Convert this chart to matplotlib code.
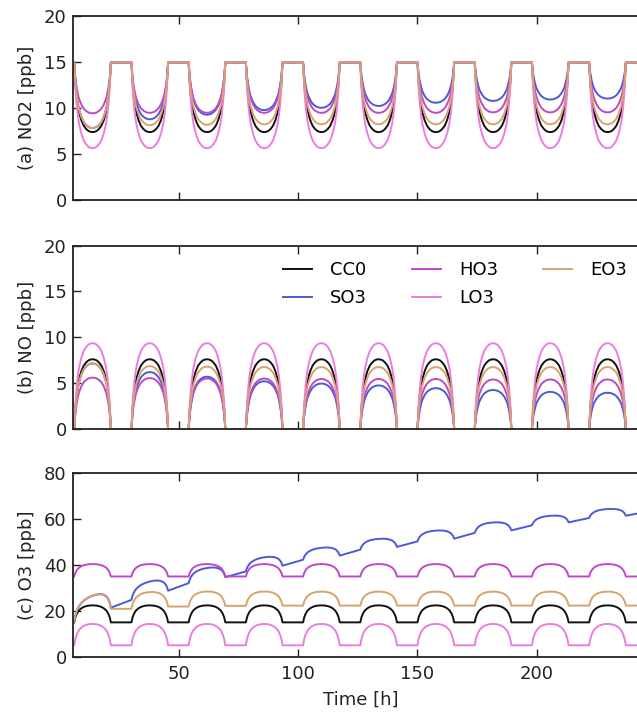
import matplotlib
matplotlib.use("Agg")
import matplotlib.pyplot as plt

plt.rcParams["font.family"] = ["DejaVu Sans"]
plt.rcParams["font.size"] = 13

series = ["CC0", "SO3", "HO3", "LO3", "EO3"]
colors = {
    "CC0": "#111111",
    "SO3": "#4a5ad8",
    "HO3": "#bf48c8",
    "LO3": "#ec7ce0",
    "EO3": "#d8a26e",
}

# start of each daylight period [h], and end of the run
sunrise = [6, 30, 54, 78, 102, 126, 150, 174, 198, 222]
t_end = 242.6

day_offsets = [0, 0.5, 1, 1.5, 2, 3, 4, 5, 6, 7, 7.7,
               8.4, 9.4, 10.4, 11.4, 12.4, 13.4, 13.9, 14.4, 14.9, 15.4]
day_shape = [0, 0.30, 0.48, 0.61, 0.71, 0.83, 0.91, 0.955, 0.985, 0.998, 1.0,
             0.998, 0.985, 0.955, 0.91, 0.83, 0.71, 0.61, 0.48, 0.30, 0]

# (a) NO2: night level 15 ppb, daily minimum per day
no2_night = 15.0
no2_min = {
    "CC0": [7.4, 7.4, 7.4, 7.4, 7.4, 7.4, 7.4, 7.4, 7.4, 7.4],
    "SO3": [7.85, 8.8, 9.3, 9.8, 10.05, 10.25, 10.6, 10.8, 10.95, 11.05],
    "HO3": [9.45, 9.5, 9.5, 9.5, 9.5, 9.5, 9.5, 9.55, 9.55, 9.55],
    "LO3": [5.65, 5.65, 5.65, 5.65, 5.65, 5.65, 5.65, 5.65, 5.65, 5.65],
    "EO3": [7.85, 8.15, 8.2, 8.25, 8.25, 8.25, 8.25, 8.25, 8.25, 8.25],
}

# (b) NO: zero at night, daily peak per day
no_peak = {
    "CC0": [7.6, 7.6, 7.6, 7.6, 7.6, 7.6, 7.6, 7.6, 7.6, 7.6],
    "SO3": [7.15, 6.2, 5.7, 5.2, 4.95, 4.75, 4.45, 4.25, 4.05, 3.95],
    "HO3": [5.6, 5.55, 5.5, 5.5, 5.45, 5.45, 5.45, 5.4, 5.4, 5.4],
    "LO3": [9.35, 9.35, 9.35, 9.35, 9.35, 9.35, 9.35, 9.35, 9.35, 9.35],
    "EO3": [7.15, 6.85, 6.8, 6.75, 6.75, 6.75, 6.75, 6.75, 6.75, 6.75],
}

# (c) O3: value at sunrise, at sunset, daytime bump, and last value
o3_dawn = {
    "CC0": [15.1] * 10,
    "SO3": [15.5, 24.9, 32.2, 37.3, 42.4, 46.8, 50.4, 54.1, 57.4, 60.6],
    "HO3": [35.1] * 10,
    "LO3": [5.1] * 10,
    "EO3": [15.5, 21.0, 22.0, 22.3, 22.4, 22.4, 22.4, 22.4, 22.4, 22.4],
}
o3_dusk = {
    "CC0": [15.1] * 10,
    "SO3": [21.5, 28.9, 34.8, 39.8, 44.2, 48.0, 51.6, 55.2, 58.7, 61.6],
    "HO3": [35.1] * 10,
    "LO3": [5.1] * 10,
    "EO3": [21.0, 22.0, 22.3, 22.4, 22.4, 22.4, 22.4, 22.4, 22.4, 22.4],
}
o3_bump = {
    "CC0": [7.4] * 10,
    "SO3": [8.2, 6.0, 5.3, 4.9, 4.3, 4.1, 4.1, 4.0, 3.5, 3.4],
    "HO3": [5.4] * 10,
    "LO3": [9.3] * 10,
    "EO3": [8.5, 6.8, 6.4, 6.2, 6.1, 6.1, 6.1, 6.1, 6.1, 6.1],
}
o3_last = {"CC0": 15.1, "SO3": 62.6, "HO3": 35.1, "LO3": 5.1, "EO3": 22.4}


def daily_curve(dawn, dusk, bump, last):
    """Chain the daylight cycles; nights are straight segments between them."""
    span = day_offsets[-1]
    ts, ys = [], []
    for k, t0 in enumerate(sunrise):
        for off, s in zip(day_offsets, day_shape):
            ts.append(t0 + off)
            ys.append(dawn[k] + (dusk[k] - dawn[k]) * off / span + bump[k] * s)
    ts.append(t_end)
    ys.append(last)
    return ts, ys


fig = plt.figure(figsize=(6.37, 7.16), dpi=100)
left, width, height = 73 / 637, 575 / 637, 0.2563
ax_a = fig.add_axes([left, 0.7207, width, height])
ax_b = fig.add_axes([left, 0.4008, width, height])
ax_c = fig.add_axes([left, 0.0824, width, height])

for name in series:
    c = colors[name]
    n = len(sunrise)
    t, y = daily_curve([no2_night] * n, [no2_night] * n,
                       [m - no2_night for m in no2_min[name]], no2_night)
    ax_a.plot(t, y, color=c, lw=1.4, label=name)
    t, y = daily_curve([0.0] * n, [0.0] * n, no_peak[name], 0.0)
    ax_b.plot(t, y, color=c, lw=1.4, label=name)
    t, y = daily_curve(o3_dawn[name], o3_dusk[name], o3_bump[name], o3_last[name])
    ax_c.plot(t, y, color=c, lw=1.4, label=name)

panels = [
    (ax_a, "(a) NO2 [ppb]", 20, [0, 5, 10, 15, 20]),
    (ax_b, "(b) NO [ppb]", 20, [0, 5, 10, 15, 20]),
    (ax_c, "(c) O3 [ppb]", 80, [0, 20, 40, 60, 80]),
]
for ax, label, ymax, yticks in panels:
    ax.set_xlim(5.5, 5.5 + 575 / 2.384)
    ax.set_ylim(0, ymax)
    ax.set_yticks(yticks)
    ax.set_xticks([50, 100, 150, 200])
    ax.set_ylabel(label, color="#222222")
    ax.yaxis.set_label_coords(-0.066 * 564 / 575, 0.5)
    ax.tick_params(direction="in", top=True, right=True, length=5.8, width=1.0,
                   colors="#222222", labelsize=13)
    ax.tick_params(axis="y", pad=4.5)
    ax.tick_params(axis="x", pad=6.0)
    for sp in ax.spines.values():
        sp.set_linewidth(1.3)
        sp.set_color("#222222")

ax_a.tick_params(labelbottom=False)
ax_b.tick_params(labelbottom=False)
ax_c.set_xlabel("Time [h]", labelpad=5, color="#222222")

ax_b.legend(ncol=3, frameon=False, loc="upper right",
            bbox_to_anchor=(627 / 637, 1 - 261 / 716), bbox_transform=fig.transFigure,
            borderaxespad=0, borderpad=0, handlelength=1.6, handletextpad=1.0,
            columnspacing=2.5, labelspacing=0.55)

fig.savefig("out.png", dpi=100)
